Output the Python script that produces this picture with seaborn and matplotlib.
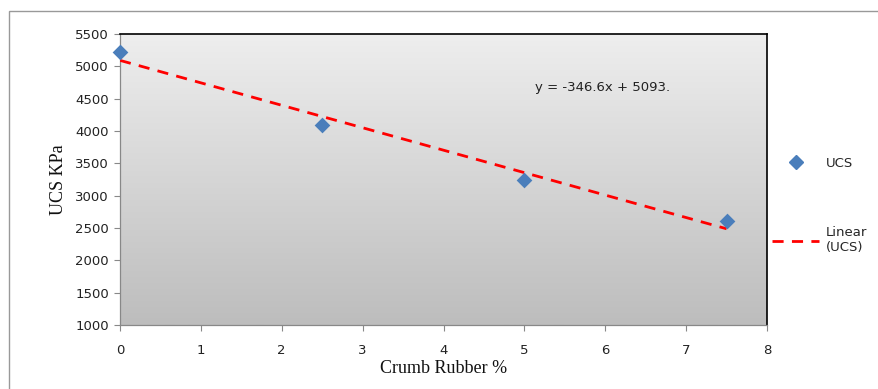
import numpy as np
import pandas as pd
import matplotlib
matplotlib.use("Agg")
import matplotlib.pyplot as plt
from matplotlib.lines import Line2D
from matplotlib.patches import Rectangle
import seaborn as sns

crumb_rubber = [0, 2.5, 5, 7.5]
ucs_kpa = [5215, 4100, 3235, 2610]
x_ticks = [0, 1, 2, 3, 4, 5, 6, 7, 8]
y_ticks = [1000, 1500, 2000, 2500, 3000, 3500, 4000, 4500, 5000, 5500]
equation = "y = -346.6x + 5093."

df = pd.DataFrame({"Crumb Rubber %": crumb_rubber, "UCS": ucs_kpa})

sns.set_theme(style="white")
plt.rcParams["font.family"] = ["DejaVu Sans"]

fig = plt.figure(figsize=(8.79, 3.89), dpi=100)
ax = fig.add_axes([120/879, 1-325/389, (767-120)/879, (325-34)/389])

# gradient background
grad = np.linspace(0, 1, 256).reshape(-1, 1)
cmap = matplotlib.colors.LinearSegmentedColormap.from_list("g", ["#eeeeee", "#bdbdbd"])
ax.imshow(grad, aspect="auto", cmap=cmap, extent=[0, 1, 0, 1], transform=ax.transAxes, zorder=0)

sns.regplot(data=df, x="Crumb Rubber %", y="UCS", ax=ax, ci=None, truncate=True, marker="D",
            scatter_kws=dict(s=64, color="#4a7ebb", zorder=4, linewidths=0, alpha=1, clip_on=False),
            line_kws=dict(color="#ff0000", linestyle=(0, (4, 3)), linewidth=2, zorder=3))

ax.set_xlim(0, 8)
ax.set_ylim(1000, 5500)
ax.set_xticks(x_ticks)
ax.set_yticks(y_ticks)
ax.set_xticklabels([str(t) for t in x_ticks], fontsize=9.5, color="#222222")
ax.set_yticklabels([str(t) for t in y_ticks], fontsize=9.5, color="#222222")
ax.tick_params(axis="both", which="both", direction="out", length=4, width=0.8, color="#888888",
               bottom=True, left=True, pad=4)
ax.tick_params(axis="x", pad=10)
for s in ["left", "bottom"]:
    ax.spines[s].set_color("#888888")
    ax.spines[s].set_linewidth(0.9)
for s in ["top", "right"]:
    ax.spines[s].set_color("#000000")
    ax.spines[s].set_linewidth(1.2)
ax.set_xlabel("Crumb Rubber %", fontsize=13, family="Liberation Serif", labelpad=2, color="#111111")
ax.set_ylabel("UCS KPa", fontsize=13, family="Liberation Serif", labelpad=6, color="#111111")

ax.text(535/879, 1-87/389, equation, transform=fig.transFigure, fontsize=9.5, va="center", ha="left",
        color="#222222")

handles = [Line2D([], [], marker="D", color="#4a7ebb", linestyle="none", markersize=7),
           Line2D([], [], color="#ff0000", linestyle=(0, (4, 3)), linewidth=2)]
fig.legend(handles, ["UCS", "Linear\n(UCS)"], loc="center left", bbox_to_anchor=(0.872, 0.472),
           frameon=False, fontsize=9.5, labelspacing=4.3, handlelength=3.6, handletextpad=0.5,
           borderaxespad=0)

fig.patches.append(Rectangle((9/879, -0.1), 1, 1-11/389+0.1, transform=fig.transFigure,
                             fill=False, edgecolor="#999999", linewidth=1))

fig.savefig("out.png", dpi=100)
